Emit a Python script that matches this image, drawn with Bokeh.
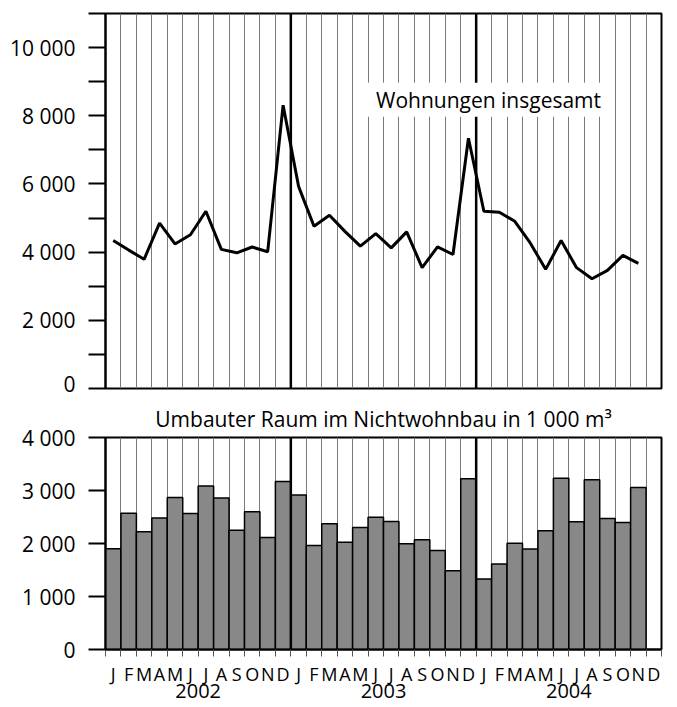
from bokeh.plotting import figure
from bokeh.models import (Range1d, FixedTicker, Grid, Arrow, LinearAxis,
                          ColumnDataSource, Label)
from bokeh.layouts import column
from bokeh.embed import file_html
from bokeh.resources import INLINE

FONT = "Open Sans"

# ---- data -------------------------------------------------------------
years = ["2002", "2003", "2004"]
months = ["J", "F", "M", "A", "M", "J", "J", "A", "S", "O", "N", "D"]

# Wohnungen insgesamt (monthly, Jan 2002 - Nov 2004)
wohnungen = [4340, 4060, 3790, 4850, 4240, 4510, 5200, 4080, 3980, 4150, 4010, 8310,
             5930, 4760, 5080, 4610, 4175, 4545, 4125, 4595, 3545, 4155, 3930, 7340,
             5200, 5170, 4905, 4270, 3495, 4340, 3545, 3220, 3465, 3905, 3670]

# Umbauter Raum im Nichtwohnbau in 1 000 m3 (Jan 2002 - Nov 2004)
umbauter_raum = [1900, 2570, 2220, 2480, 2870, 2565, 3085, 2860, 2250, 2600, 2115, 3170,
                 2915, 1960, 2375, 2025, 2300, 2495, 2415, 1995, 2070, 1870, 1485, 3220,
                 1330, 1615, 2005, 1895, 2240, 3230, 2410, 3205, 2470, 2395, 3055]

top_ticks = [0, 2000, 4000, 6000, 8000, 10000]
top_minor = [1000, 3000, 5000, 7000, 9000, 11000]
bot_ticks = [0, 1000, 2000, 3000, 4000]

# ---- derived positions ---------------------------------------------------
n_cols = 12 * len(years)
x_pos = list(range(1, len(wohnungen) + 1))
col_centers = list(range(1, n_cols + 1))
boundaries = [i + 0.5 for i in range(0, n_cols + 1)]
year_bounds = [12 * (i + 1) + 0.5 for i in range(len(years) - 1)]
year_centers = [12 * i + 6.5 for i in range(len(years))]
month_labels = {c: months[(c - 1) % 12] for c in col_centers}
year_labels = {yc: y for yc, y in zip(year_centers, years)}


def fmt(v):
    return f"{v:,}".replace(",", " ")


x_range = Range1d(0.5, n_cols + 0.5)
GRID_COLOR = "#7a7a7a"
TXT = "21px"

# ---- top panel -----------------------------------------------------------
top = figure(frame_width=556, frame_height=375, x_range=x_range,
             y_range=Range1d(0, 11000), x_axis_type=None,
             output_backend="svg", toolbar_location=None,
             min_border_left=105, min_border_right=10,
             min_border_top=13, min_border_bottom=9)
top.outline_line_color = "black"
top.outline_line_width = 2
top.ygrid.grid_line_color = None
top.add_layout(Grid(dimension=0, ticker=FixedTicker(ticks=boundaries),
                    grid_line_color=GRID_COLOR, grid_line_width=1))

ya = top.yaxis[0]
ya.ticker = FixedTicker(ticks=top_ticks, minor_ticks=top_minor)
ya.major_label_overrides = {v: fmt(v) for v in top_ticks}
ya.major_tick_out = 17
ya.major_tick_in = 0
ya.minor_tick_out = 17
ya.minor_tick_in = 0
ya.major_tick_line_width = 2
ya.minor_tick_line_width = 2
ya.axis_line_width = 2
ya.major_label_text_font = FONT
ya.major_label_text_font_size = TXT
ya.major_label_text_color = "black"
ya.major_label_standoff = 13

top.line(x_pos, wohnungen, line_color="black", line_width=3)

top_src = ColumnDataSource(dict(x=year_bounds,
                                y0=[11000] * len(year_bounds),
                                y1=[-400] * len(year_bounds)))
top.add_layout(Arrow(end=None, start=None, x_start="x", y_start="y0",
                     x_end="x", y_end="y1", source=top_src,
                     line_color="black", line_width=2.5))

top.add_layout(Label(x=25.3, y=8470, text="Wohnungen insgesamt",
                     text_align="center", text_baseline="middle",
                     text_font=FONT, text_font_size=TXT,
                     text_color="black",
                     background_fill_color="white",
                     padding=dict(left=8, right=8, top=3, bottom=3)))

# ---- bottom panel --------------------------------------------------------
bot = figure(frame_width=556, frame_height=212, x_range=x_range,
             y_range=Range1d(0, 4000),
             output_backend="svg", toolbar_location=None,
             min_border_left=105, min_border_right=10,
             min_border_top=37, min_border_bottom=58,
             title="Umbauter Raum im Nichtwohnbau in 1 000 m³")
bot.title.align = "center"
bot.title.text_font = FONT
bot.title.text_font_size = TXT
bot.title.text_font_style = "normal"
bot.title.text_color = "black"
bot.outline_line_color = "black"
bot.outline_line_width = 2
bot.ygrid.grid_line_color = None
bot.xgrid.ticker = FixedTicker(ticks=boundaries)
bot.xgrid.grid_line_color = GRID_COLOR
bot.xgrid.grid_line_width = 1

by = bot.yaxis[0]
by.ticker = FixedTicker(ticks=bot_ticks)
by.major_label_overrides = {v: fmt(v) for v in bot_ticks}
by.major_tick_out = 17
by.major_tick_in = 0
by.minor_tick_out = 0
by.minor_tick_in = 0
by.major_tick_line_width = 2
by.axis_line_width = 2
by.major_label_text_font = FONT
by.major_label_text_font_size = TXT
by.major_label_text_color = "black"
by.major_label_standoff = 13

bx = bot.xaxis[0]
bx.ticker = FixedTicker(ticks=col_centers, minor_ticks=boundaries)
bx.major_label_overrides = month_labels
bx.major_tick_out = 0
bx.major_tick_in = 0
bx.minor_tick_out = 7
bx.minor_tick_in = 0
bx.minor_tick_line_color = "#555555"
bx.minor_tick_line_width = 1
bx.axis_line_width = 2
bx.major_label_text_font = FONT
bx.major_label_text_font_size = "18px"
bx.major_label_text_color = "black"
bx.major_label_standoff = 5

year_axis = LinearAxis(ticker=FixedTicker(ticks=year_centers),
                       major_label_overrides=year_labels)
year_axis.axis_line_color = None
year_axis.major_tick_line_color = None
year_axis.minor_tick_line_color = None
year_axis.major_tick_out = 0
year_axis.major_tick_in = 0
year_axis.minor_tick_out = 0
year_axis.minor_tick_in = 0
year_axis.major_label_standoff = -5
year_axis.major_label_text_font = FONT
year_axis.major_label_text_font_size = "20px"
year_axis.major_label_text_color = "black"
bot.add_layout(year_axis, "below")

bot.vbar(x=x_pos, top=umbauter_raum, width=1, fill_color="#888888",
         line_color="black", line_width=1.5)

bot_src = ColumnDataSource(dict(x=year_bounds,
                                y0=[4075] * len(year_bounds),
                                y1=[-1300] * len(year_bounds)))
bot.add_layout(Arrow(end=None, start=None, x_start="x", y_start="y0",
                     x_end="x", y_end="y1", source=bot_src,
                     line_color="black", line_width=2.5))

layout = column(top, bot, spacing=0)
open("out.html", "w").write(file_html(layout, INLINE))
